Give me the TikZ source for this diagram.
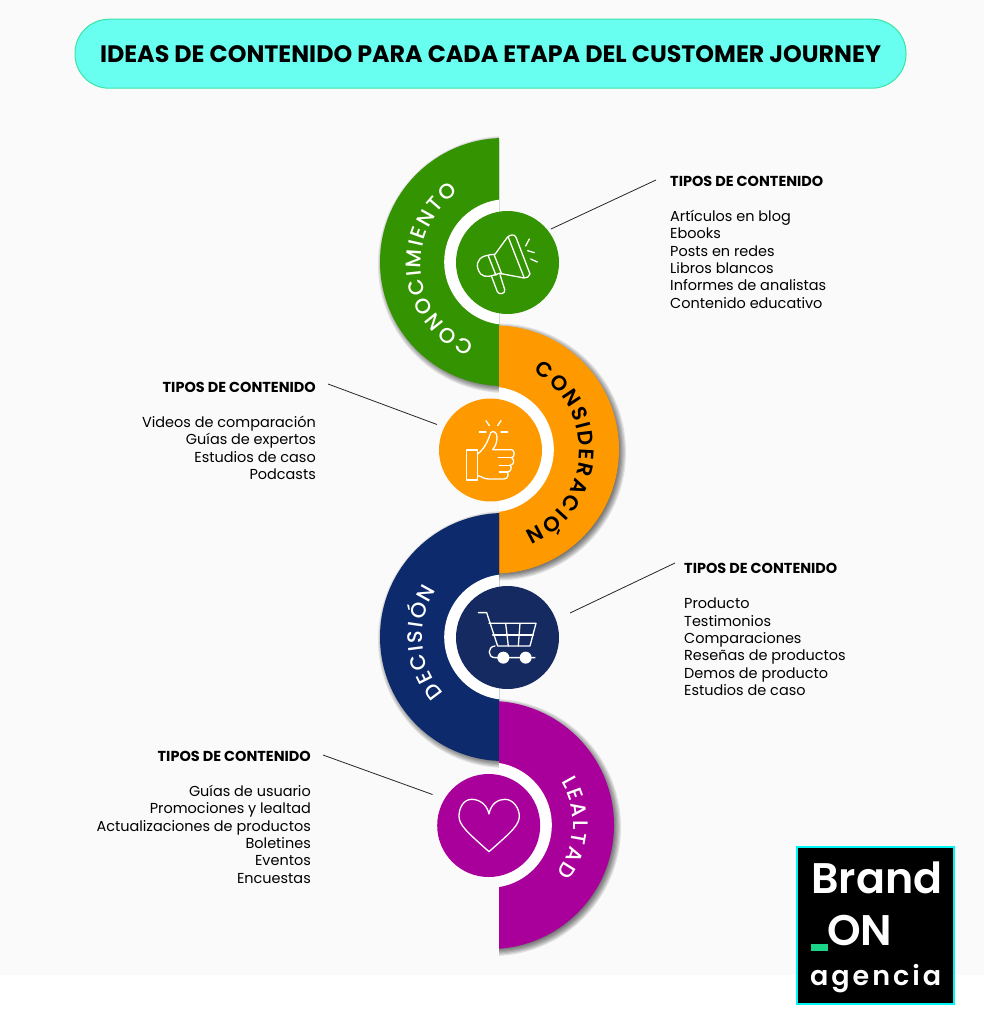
\documentclass[tikz,border=0pt]{standalone}
\usepackage{fontspec}
\setmainfont{Poppins}
\newfontfamily\arcfont{Poppins Medium}
\newfontfamily\arcfontb{Poppins SemiBold}
\newfontfamily\headfont{Poppins}
\newfontfamily\logofont{Poppins SemiBold}
\newfontfamily\agenciafont[LetterSpace=11]{Poppins SemiBold}
\usetikzlibrary{decorations.text}
\definecolor{fondo}{HTML}{FAFAFA}
\definecolor{titulo}{HTML}{69FFF0}
\definecolor{tituloborde}{HTML}{3BE3A8}
\definecolor{verde}{HTML}{339300}
\definecolor{naranja}{HTML}{FF9900}
\definecolor{azul}{HTML}{0C2A6C}
\definecolor{azulcirc}{HTML}{152A60}
\definecolor{magenta2}{HTML}{A9009C}
\definecolor{logoverde}{HTML}{1AD487}
\definecolor{logoborde}{HTML}{00F5F5}
\tikzset{
  iconcirc/.style={circle, minimum size=103pt, inner sep=0pt},
  cabecera/.style={font=\headfont\bfseries\fontsize{14.45}{16}\selectfont, inner sep=0pt},
  lista/.style={font=\fontsize{14.45}{17.35}\selectfont, inner sep=0pt},
  icono/.style={white, line width=1.3pt, line join=round, line cap=round},
  enlace/.style={line width=0.8pt, black!85},
  arcotexto/.style={decorate, decoration={text effects along path, text={#1}, text align=center,
    text effects/.cd, text along path,
    character widths={font=\arcofuente\fontsize{21}{22}\selectfont, inner xsep=1pt, inner ysep=0pt},
    characters={font=\arcofuente\fontsize{21}{22}\selectfont, inner xsep=1pt, inner ysep=0pt, text=\arcocolor}}}
}
\newcommand{\arcocolor}{white}
\newcommand{\arcofuente}{\arcfont}
% half disc, shadow and white ring: x range, disc centre, radius, ring centre, colour
\newcommand{\etapa}[6]{
  \begin{scope}
    \clip (#1,0) rectangle (#2,1024);
    \foreach \k in {0,...,6}
      \fill[black, opacity=0.10] (#3)++(2.5,2.5) circle ({#4+4.5-\k*1.2});
  \end{scope}
  \begin{scope}
    \clip (#1,0) rectangle (#2,1024);
    \fill[#6] (#3) circle (#4);
    \fill[white] (#5) circle (62.8);
  \end{scope}
}
\begin{document}
\begin{tikzpicture}[x=1pt, y=-1pt]
\useasboundingbox (0,0) rectangle (984,1024);
\fill[white] (0,0) rectangle (984,1024);
\fill[fondo] (0,0) rectangle (984,975);

% titulo
\node[draw=tituloborde, fill=titulo, line width=1pt, rounded corners=34pt, minimum width=831pt, minimum height=69pt, inner sep=0pt, font=\headfont\bfseries\fontsize{23.8}{26}\selectfont] (titulo1) at (490.5,53.7) {IDEAS DE CONTENIDO PARA CADA ETAPA DEL CUSTOMER JOURNEY};

% etapas
\etapa{300}{499}{504,262}{124}{507,262}{verde}
\etapa{499}{700}{495,449.5}{124}{491,449.5}{naranja}
\etapa{300}{499}{504,637}{124}{507,637}{azul}
\etapa{499}{700}{490,825}{124}{489,825}{magenta2}

\node[iconcirc, fill=verde] (circ1) at (507.5,262.5) {};
\node[iconcirc, fill=naranja] (circ2) at (490.5,450) {};
\node[iconcirc, fill=azulcirc] (circ3) at (507.5,637.5) {};
\node[iconcirc, fill=magenta2] (circ4) at (488.7,825.5) {};

% texto en arco
\path[arcotexto={CONOCIMIENTO}]
  plot[domain=93:255, samples=70] ({506+85.5*cos(\x)},{264+85.5*sin(\x)});
\renewcommand{\arcocolor}{black}
\renewcommand{\arcofuente}{\arcfontb}
\path[arcotexto={CONSIDERACIÓN}]
  plot[domain=-82:88, samples=70] ({491+88.5*cos(\x)},{450+88.5*sin(\x)});
\renewcommand{\arcocolor}{white}
\renewcommand{\arcofuente}{\arcfont}
\path[arcotexto={DECISIÓN}]
  plot[domain=116:236, samples=70] ({507+85*cos(\x)},{637+85*sin(\x)});
\path[arcotexto={LEALTAD}]
  plot[domain=-47:53, samples=70] ({492+81*cos(\x)},{824+81*sin(\x)});

% megafono
\begin{scope}[shift={(360,120)}, x=0.3333pt, y=-0.3333pt, icono]
  \draw (442,352) .. controls (450,343) and (465,342) .. (468,352) -- (510,462) .. controls (508,470) and (500,475) .. (492,474) -- (418,460) .. controls (395,468) and (375,475) .. (362,462) .. controls (345,440) and (350,415) .. (375,408) .. controls (385,404) and (395,404) .. (405,403) -- cycle;
  \draw (445,352) -- (492,472);
  \draw (385,408) -- (408,466);
  \draw (402,403) -- (425,462);
  \draw (395,470) -- (412,515) .. controls (416,526) and (438,522) .. (434,508) -- (420,464);
  \draw (497,378) -- (508,357);
  \draw (503,392) -- (523,398);
  \draw (512,417) -- (532,426);
\end{scope}

% pulgar
\begin{scope}[shift={(360,380)}, x=0.3333pt, y=-0.3333pt, icono]
  \draw (320,210) rectangle (353,300);
  \draw (353,222) .. controls (375,205) and (385,180) .. (392,158) .. controls (400,150) and (412,158) .. (411,172) .. controls (411,190) and (405,200) .. (398,209) -- (455,209) .. controls (465,210) and (465,232) .. (455,233) .. controls (465,240) and (462,255) .. (450,256) .. controls (458,262) and (452,276) .. (442,276) .. controls (448,285) and (442,297) .. (432,297) -- (385,297) .. controls (370,297) and (362,287) .. (353,287);
  \draw (415,233) -- (455,233);
  \draw (418,256) -- (450,256);
  \draw (418,276) -- (442,276);
  \draw (358,156) -- (378,156);
  \draw (378,122) -- (388,137);
  \draw (423,122) -- (413,137);
  \draw (423,156) -- (443,156);
\end{scope}

% carrito
\begin{scope}[shift={(360,380)}, x=0.3333pt, y=-0.3333pt, icono]
  \draw (355,698) -- (380,698) -- (413,798) -- (510,798) -- (528,730) -- (387,730);
  \draw (437,730) -- (445,798);
  \draw (480,730) -- (475,798);
  \draw (398,765) -- (520,765);
  \draw (405,798) .. controls (382,800) and (382,833) .. (405,833) -- (525,833);
  \fill (430,833) circle (18);
  \fill (497,833) circle (18);
\end{scope}

% corazon
\begin{scope}[shift={(360,690)}, x=0.3333pt, y=-0.3333pt, icono]
  \draw (387,372) .. controls (380,340) and (355,328) .. (335,328) .. controls (310,328) and (297,355) .. (297,378) .. controls (297,405) and (320,425) .. (387,485) .. controls (455,425) and (478,405) .. (478,378) .. controls (478,355) and (460,328) .. (435,328) .. controls (415,328) and (393,340) .. (387,372);
\end{scope}

% textos
\node[cabecera, anchor=west] (tipos1) at (670,181.5) {TIPOS DE CONTENIDO};
\node[lista, anchor=north west, align=left] (lista1) at (670,210) {Artículos en blog\\Ebooks\\Posts en redes\\Libros blancos\\Informes de analistas\\Contenido educativo};
\node[cabecera, anchor=east] (tipos2) at (316,387.5) {TIPOS DE CONTENIDO};
\node[lista, anchor=north east, align=right] (lista2) at (316,416) {Videos de comparación\\Guías de expertos\\Estudios de caso\\Podcasts};
\node[cabecera, anchor=west] (tipos3) at (684,568.5) {TIPOS DE CONTENIDO};
\node[lista, anchor=north west, align=left] (lista3) at (684,598) {Producto\\Testimonios\\Comparaciones\\Reseñas de productos\\Demos de producto\\Estudios de caso};
\node[cabecera, anchor=east] (tipos4) at (311,756.5) {TIPOS DE CONTENIDO};
\node[lista, anchor=north east, align=right] (lista4) at (311,785) {Guías de usuario\\Promociones y lealtad\\Actualizaciones de productos\\Boletines\\Eventos\\Encuestas};

% enlaces
\coordinate (ini1) at (656,180);
\coordinate (fin1) at (551,229);
\coordinate (ini2) at (328,384);
\coordinate (fin2) at (437,424.5);
\coordinate (ini3) at (675,563);
\coordinate (fin3) at (570,613);
\coordinate (ini4) at (323,755);
\coordinate (fin4) at (432.5,794.5);
\draw[enlace] (ini1) -- (fin1);
\draw[enlace] (ini2) -- (fin2);
\draw[enlace] (ini3) -- (fin3);
\draw[enlace] (ini4) -- (fin4);

% logo
\node[draw=logoborde, fill=black, line width=2.5pt, minimum size=157pt, inner sep=0pt] (logo) at (875.5,925.5) {};
\node[font=\logofont\fontsize{42.8}{46}\selectfont, text=white, anchor=base west, inner sep=0pt] (brand) at (811,893) {Brand};
\node[font=\logofont\fontsize{42.8}{46}\selectfont, text=white, anchor=base west, inner sep=0pt] (on) at (827,945) {ON};
\fill[logoverde] (811,944) rectangle (828,951);
\node[font=\agenciafont\fontsize{27}{28}\selectfont, text=white, anchor=base west, inner sep=0pt] (agencia) at (810,985) {agencia};
\end{tikzpicture}
\end{document}
